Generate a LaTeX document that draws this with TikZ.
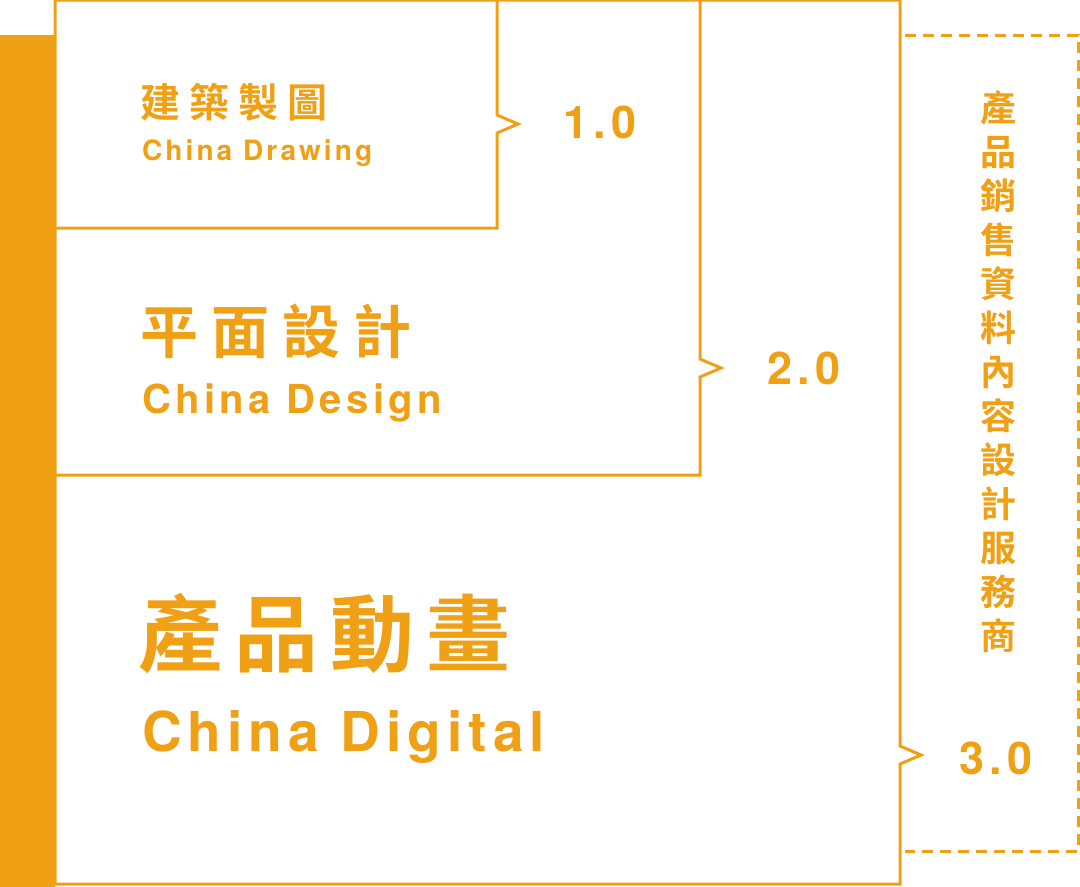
\documentclass[tikz,border=0pt]{standalone}
\usepackage{fontspec}
\newfontfamily\cjk{Noto Sans CJK TC Bold}
\newfontfamily\lat{TeX Gyre Heros}[BoldFont=* Bold]
\newfontfamily\latsp{TeX Gyre Heros Bold}[LetterSpace=11]
\definecolor{org}{RGB}{240,160,20}
\begin{document}
\begin{tikzpicture}[x=1pt,y=-1pt,
  ln/.style={draw=org,line width=3pt},
  dsh/.style={draw=org,line width=3pt,dash pattern=on 11pt off 7pt},
  zh/.style={text=org,anchor=west,inner sep=0pt,font=\cjk},
  en/.style={text=org,anchor=west,inner sep=0pt,font=\latsp},
  num/.style={text=org,anchor=center,inner sep=0pt,font=\lat}]
\useasboundingbox (0,0) rectangle (1080,887);
\fill[org] (0,35) rectangle (55,887);
% box3
\draw[ln] (55,0) -- (900,0) -- (900,746) -- (921,755) -- (900,764) -- (900,884) -- (55,884) -- cycle;
% box2
\draw[ln] (55,475) -- (700,475) -- (700,377) -- (721,368) -- (700,359) -- (700,0);
% box1
\draw[ln] (55,228) -- (497,228) -- (497,133) -- (518,124) -- (497,115) -- (497,0);
% dashed
\draw[dsh] (905,35) -- (1078,35) -- (1078,851) -- (905,851);
\node[zh,font=\cjk\fontsize{40}{40}\selectfont] (t1) at (140,102) {建\hspace{9pt}築\hspace{9pt}製\hspace{9pt}圖};
\node[en,font=\latsp\fontsize{28}{28}\selectfont] (e1) at (142,153) {China Drawing};
\node[zh,font=\cjk\fontsize{58}{58}\selectfont] (t2) at (140,331) {平\hspace{13pt}面\hspace{13pt}設\hspace{13pt}計};
\node[en,font=\latsp\fontsize{40}{40}\selectfont] (e2) at (142,403) {China Design};
\node[zh,font=\cjk\fontsize{84}{84}\selectfont] (t3) at (138,634) {產\hspace{12pt}品\hspace{12pt}動\hspace{12pt}畫};
\node[en,font=\latsp\fontsize{55}{55}\selectfont] (e3) at (142,737) {China Digital};
\node[num,font=\lat\bfseries\fontsize{45}{45}\selectfont] (n1) at (600,122) {1\hspace{5pt}.\hspace{5pt}0};
\node[num,font=\lat\bfseries\fontsize{45}{45}\selectfont] (n2) at (804,368) {2\hspace{5pt}.\hspace{5pt}0};
\node[num,font=\lat\bfseries\fontsize{45}{45}\selectfont] (n3) at (996,758) {3\hspace{5pt}.\hspace{5pt}0};
\node[text=org,inner sep=0pt,align=center,font=\cjk\fontsize{36}{44}\selectfont] (v) at (998,372)
 {產\\品\\銷\\售\\資\\料\\內\\容\\設\\計\\服\\務\\商};
\end{tikzpicture}
\end{document}
